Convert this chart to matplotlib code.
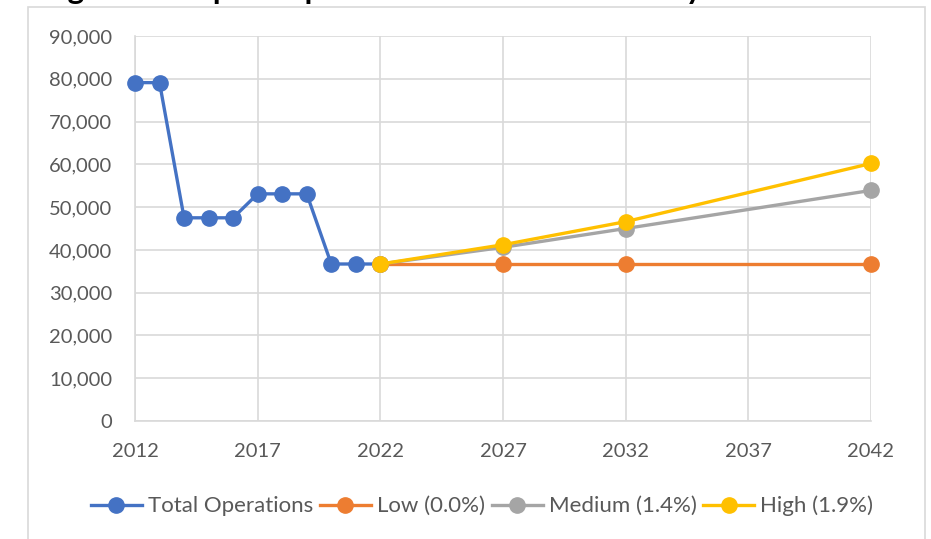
import matplotlib
matplotlib.use("Agg")
import matplotlib.pyplot as plt
from matplotlib.patches import Rectangle

# Data
hist_years = [2012, 2013, 2014, 2015, 2016, 2017, 2018, 2019, 2020, 2021, 2022]
total_ops = [79100, 79100, 47500, 47500, 47500, 53100, 53100, 53100, 36700, 36700, 36700]

fc_years = [2022, 2027, 2032, 2042]
low = [36700, 36700, 36700, 36700]
medium = [36700, 40600, 45000, 53900]
high = [36700, 41200, 46600, 60200]

x_ticks = [2012, 2017, 2022, 2027, 2032, 2037, 2042]
y_ticks = [0, 10000, 20000, 30000, 40000, 50000, 60000, 70000, 80000, 90000]

series_labels = ["Total Operations", "Low (0.0%)", "Medium (1.4%)", "High (1.9%)"]
colors = ["#4472C4", "#ED7D31", "#A5A5A5", "#FFC000"]

title_text = "Figure 4: Airport Operations Forecast Summary"

plt.rcParams['font.family'] = ['Lato', 'DejaVu Sans']

W, H = 931, 539
fig = plt.figure(figsize=(W / 100, H / 100), dpi=100)

# chart area border
fig.patches.append(Rectangle((28 / W, -0.1), (925 - 28) / W, 1.1 - 7 / H,
                             transform=fig.transFigure, fill=False,
                             edgecolor="#D9D9D9", linewidth=1.2))

# clipped title (only descenders visible, as in the reference)
fig.text(42 / W, 1 + 1.5 / H, title_text, fontsize=22.5, fontweight="bold",
         color="black", va="baseline", ha="left")

ax = fig.add_axes([135 / W, 1 - 421 / H, (871 - 135) / W, (421 - 36) / H])
ax.set_xlim(2012, 2042)
ax.set_ylim(0, 90000)
ax.set_xticks(x_ticks)
ax.set_yticks(y_ticks)
ax.set_xticklabels([str(t) for t in x_ticks])
ax.set_yticklabels([f"{t:,}" for t in y_ticks])
ax.grid(True, color="#D9D9D9", linewidth=1.2)
ax.set_axisbelow(True)
for s in ["top", "right"]:
    ax.spines[s].set_visible(False)
for s in ["left", "bottom"]:
    ax.spines[s].set_color("#D9D9D9")
    ax.spines[s].set_linewidth(1.2)
ax.tick_params(length=0, labelsize=14.5, labelcolor="#595959")
ax.tick_params(axis="x", pad=15.5)
ax.tick_params(axis="y", pad=16.5)

lw = 2.4
ms = 11
ax.plot(hist_years, total_ops, color=colors[0], lw=lw, marker="o", ms=ms,
        label=series_labels[0], clip_on=False, zorder=3)
ax.plot(fc_years, low, color=colors[1], lw=lw, marker="o", ms=ms,
        label=series_labels[1], clip_on=False, zorder=4)
ax.plot(fc_years, medium, color=colors[2], lw=lw, marker="o", ms=ms,
        label=series_labels[2], clip_on=False, zorder=5)
ax.plot(fc_years, high, color=colors[3], lw=lw, marker="o", ms=ms,
        label=series_labels[3], clip_on=False, zorder=6)

leg = fig.legend(loc="center", bbox_to_anchor=(482 / W, 1 - 506 / H), ncol=4,
                 frameon=False, fontsize=16, handlelength=2.3,
                 handletextpad=0.27, columnspacing=0.3)
for t in leg.get_texts():
    t.set_color("#595959")

fig.savefig("out.png", dpi=100)
